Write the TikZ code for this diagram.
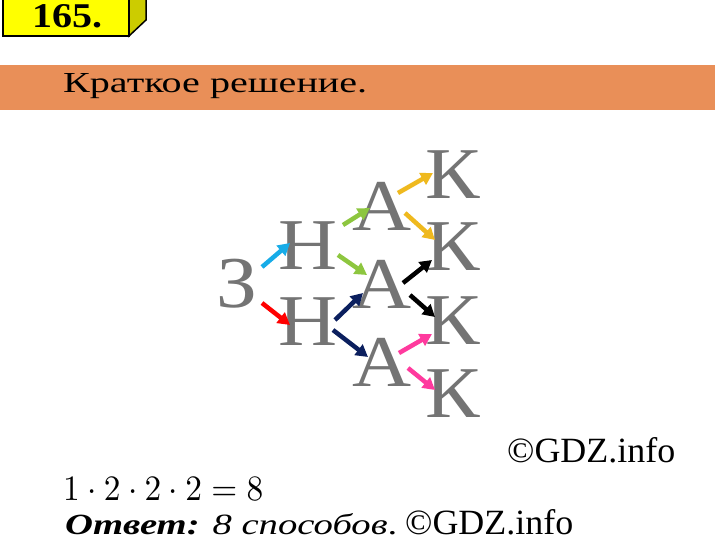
\documentclass[tikz,border=0pt]{standalone}
\usepackage{fontspec}
\setmainfont{Liberation Serif}
\newfontfamily\letterfont{Liberation Serif}[FakeStretch=1.12]
\usepackage{graphicx}
\usetikzlibrary{arrows.meta}
\definecolor{bandOrange}{HTML}{E98F58}
\definecolor{boxYellow}{HTML}{FFFF00}
\definecolor{boxSide}{HTML}{CCCC00}
\definecolor{letterGray}{HTML}{747474}
\definecolor{arrCyan}{HTML}{17ACE8}
\definecolor{arrRed}{HTML}{FF0000}
\definecolor{arrGreen}{HTML}{8DC63F}
\definecolor{arrNavy}{HTML}{0B1F5E}
\definecolor{arrYellow}{HTML}{EFB91E}
\definecolor{arrPink}{HTML}{FF3A9E}
\tikzset{
	letter/.style={text=letterGray, inner sep=0pt, font=\letterfont\fontsize{73}{73}\selectfont},
	arr/.style={draw=#1, line width=4.5pt, -{Triangle[length=12pt,width=13pt]}},
	textline/.style={anchor=base west, inner sep=0pt}
}

\begin{document}
\begin{tikzpicture}[x=1pt,y=-1pt]
\useasboundingbox (0,0) rectangle (715,540);
\fill[white] (0,0) rectangle (715,540);

% number box
\filldraw[fill=boxSide, line width=1.5pt] (129,36) -- (146,20) -- (146,-5) -- (129,-5) -- cycle;
\filldraw[fill=boxYellow, line width=1.5pt] (3,-5) rectangle (129,36);
\node[textline] (num) at (32,28) {\resizebox{70pt}{23pt}{\bfseries 165.}};

% title band
\fill[bandOrange] (0,65) rectangle (715,110);
\node[textline] (title) at (63,93) {\resizebox{304pt}{19pt}{Краткое решение.}};

% letters
\node[letter] (z) at (237,284) {З};
\node[letter] (n1) at (308,246) {Н};
\node[letter] (n2) at (308,322) {Н};
\node[letter] (a1) at (382,206) {А};
\node[letter] (a2) at (382,284) {А};
\node[letter] (a3) at (382,362) {А};
\foreach \i/\y in {1/175,2/247,3/321,4/394}
	\node[letter] (k\i) at (453,\y) {К};

% arrows
\draw[arr=arrCyan] ([shift={(25,-17)}]z.center) -- ([shift={(-18,-3)}]n1.center);
\draw[arr=arrRed] ([shift={(25,19)}]z.center) -- ([shift={(-18,3)}]n2.center);
\draw[arr=arrGreen] ([shift={(35,-21)}]n1.center) -- ([shift={(-12,2)}]a1.center);
\draw[arr=arrGreen] ([shift={(30,9)}]n1.center) -- ([shift={(-15,-9)}]a2.center);
\draw[arr=arrNavy] ([shift={(27,-2)}]n2.center) -- ([shift={(-19,9)}]a2.center);
\draw[arr=arrNavy] ([shift={(25,8)}]n2.center) -- ([shift={(-14,-5)}]a3.center);
\draw[arr=arrYellow] ([shift={(16,-13)}]a1.center) -- ([shift={(-20,-2)}]k1.center);
\draw[arr=arrYellow] ([shift={(23,7)}]a1.center) -- ([shift={(-18,-7)}]k2.center);
\draw[arr=black] ([shift={(21,-1)}]a2.center) -- ([shift={(-21,13)}]k2.center);
\draw[arr=black] ([shift={(28,11)}]a2.center) -- ([shift={(-18,-4)}]k3.center);
\draw[arr=arrPink] ([shift={(17,-9)}]a3.center) -- ([shift={(-21,13)}]k3.center);
\draw[arr=arrPink] ([shift={(26,6)}]a3.center) -- ([shift={(-18,-4)}]k4.center);

% answer
\node[textline] (copy1) at (507,462) {\resizebox{168pt}{25pt}{©GDZ.info}};
\node[textline] (calc) at (63,500) {\resizebox{200pt}{23pt}{$1\cdot2\cdot2\cdot2=8$}};
\node[textline] (answer) at (65,534) {\resizebox{332pt}{21pt}{\textbf{\textit{Ответ:}} \textit{8 способов}.}};
\node[textline] (copy2) at (405,534) {\resizebox{168pt}{25pt}{©GDZ.info}};
\end{tikzpicture}
\end{document}
